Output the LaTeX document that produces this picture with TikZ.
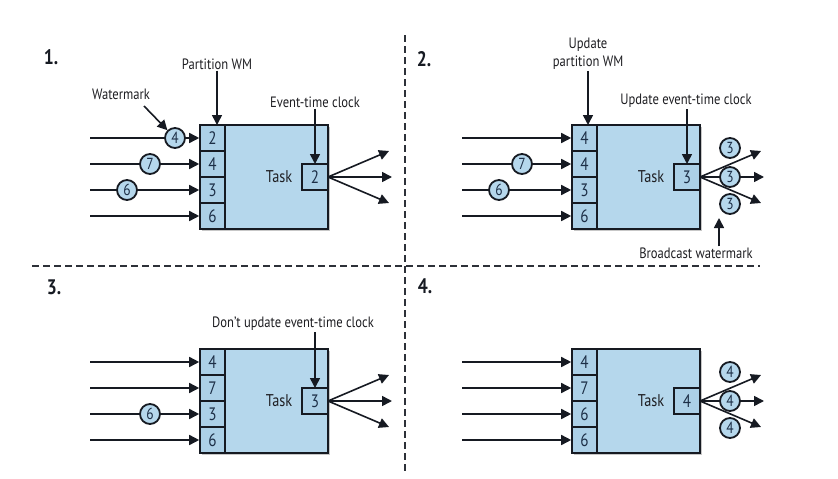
\documentclass[tikz,border=0pt]{standalone}
\usepackage{fontspec}
\setmainfont{PT Sans}[FakeStretch=0.84]
\usetikzlibrary{arrows.meta,shadows}

\definecolor{boxfill}{RGB}{181,215,236}
\definecolor{cellfill}{RGB}{172,208,231}
\definecolor{ink}{RGB}{22,26,34}
\definecolor{digit}{RGB}{28,46,70}
\definecolor{labelink}{RGB}{30,30,34}

\tikzset{
  every node/.style={font=\fontsize{15}{18}\selectfont, text=labelink},
  taskbox/.style={draw=ink, line width=2pt, fill=boxfill, minimum width=128pt,
    minimum height=104pt, inner sep=0pt, outer sep=0pt, anchor=north west,
    drop shadow={shadow xshift=1.6pt, shadow yshift=-1.6pt, opacity=0.22, fill=black}},
  cellbox/.style={draw=ink, line width=1.8pt, fill=cellfill, minimum width=25pt,
    minimum height=26pt, inner sep=0pt, outer sep=0pt, anchor=north west, text=digit,
    font=\fontsize{18}{18}\selectfont},
  clockbox/.style={draw=ink, line width=1.8pt, fill=cellfill, minimum width=26pt,
    minimum height=26pt, inner sep=0pt, outer sep=0pt, anchor=east, text=digit,
    font=\fontsize{18}{18}\selectfont},
  wmark/.style={circle, draw=ink, line width=1.8pt, fill=boxfill, minimum size=20pt,
    inner sep=0pt, text=digit, font=\fontsize{16}{16}\selectfont},
  flow/.style={-{Triangle[length=10pt,width=10pt]}, line width=1.6pt, draw=ink},
  pointer/.style={flow},
  sep/.style={draw=ink!90, line width=2.4pt, dash pattern=on 7pt off 4pt},
  stepnum/.style={font=\bfseries\fontsize{21}{22}\selectfont, text=ink},
  lbl/.style={align=center, inner sep=1pt}
}

% One task with its four input partitions, its event-time clock and three outputs.
% #1 name prefix, #2 shift, #3-#6 partition watermarks, #7 event-time clock
\newcommand\taskpanel[7]{%
  \begin{scope}[shift={#2}, name prefix=#1-]
    \node[taskbox] (box) at (200,125) {};
    \node[cellbox] (c1) at (200,125) {#3};
    \node[cellbox] (c2) at (200,151) {#4};
    \node[cellbox] (c3) at (200,177) {#5};
    \node[cellbox] (c4) at (200,203) {#6};
    \node[clockbox] (clk) at (328,177) {#7};
    \node[font=\fontsize{17}{18}\selectfont] (task) at (279,177) {Task};
    \foreach \i/\y in {1/138,2/164,3/190,4/216}{
      \coordinate (in\i) at (90,\y);
      \draw[flow, shorten >=0.8pt] (in\i) -- (c\i.west);
    }
    \coordinate (o1) at (389,151);
    \coordinate (o2) at (392,177);
    \coordinate (o3) at (389,203);
    \foreach \i in {1,2,3}{ \draw[flow] (clk.east) -- (o\i); }
  \end{scope}}

\begin{document}
\begin{tikzpicture}[x=1pt, y=-1pt]
  \useasboundingbox (0,0) rectangle (838,479);

  % quadrant separators
  \coordinate (vtop) at (405,35);
  \coordinate (vbot) at (405,472);
  \coordinate (hleft) at (32,266);
  \coordinate (hright) at (760,266);
  \draw[sep] (vtop) -- (vbot);
  \draw[sep] (hleft) -- (hright);

  % ---------- 1. ----------
  \node[stepnum] (n1) at (51,57) {1.};
  \taskpanel{p1}{(0,0)}{2}{4}{3}{6}{2}
  \node[wmark] (p1-w1) at (175,138) {4};
  \node[wmark] (p1-w2) at (150,164) {7};
  \node[wmark] (p1-w3) at (127,190) {6};
  \node[lbl] (pwm) at (217,64) {Partition WM};
  \draw[pointer] (pwm.south) -- (pwm.south |- p1-c1.north);
  \node[lbl] (wm) at (121,94) {Watermark};
  \coordinate (wmtail) at (144,106);
  \draw[pointer] (wmtail) -- (p1-w1);
  \node[lbl] (etc) at (315,102) {Event-time clock};
  \draw[pointer] (etc.south -| p1-clk.north) -- (p1-clk.north);

  % ---------- 2. ----------
  \node[stepnum] (n2) at (424,59) {2.};
  \taskpanel{p2}{(372,0)}{4}{4}{3}{6}{3}
  \node[wmark] (p2-w2) at (522,164) {7};
  \node[wmark] (p2-w3) at (499,190) {6};
  \node[wmark] (p2-b1) at (730,148) {3};
  \node[wmark] (p2-b2) at (730,177) {3};
  \node[wmark] (p2-b3) at (730,204) {3};
  \node[lbl] (upwm) at (588,54) {Update\\partition WM};
  \draw[pointer] (upwm.south) -- (upwm.south |- p2-c1.north);
  \node[lbl] (uetc) at (686,101) {Update event-time clock};
  \draw[pointer] (uetc.south -| p2-clk.north) -- (p2-clk.north);
  \node[lbl] (bw) at (696,253) {Broadcast watermark};
  \coordinate (bwtip) at (719,218);
  \draw[pointer] (bw.north -| bwtip) -- (bwtip);

  % ---------- 3. ----------
  \node[stepnum] (n3) at (54,287) {3.};
  \taskpanel{p3}{(0,224)}{4}{7}{3}{6}{3}
  \node[wmark] (p3-w3) at (150,414) {6};
  \node[lbl] (detc) at (293,324) {Don't update event-time clock};
  \draw[pointer] (detc.south -| p3-clk.north) -- (p3-clk.north);

  % ---------- 4. ----------
  \node[stepnum] (n4) at (425,286) {4.};
  \taskpanel{p4}{(372,224)}{4}{7}{6}{6}{4}
  \node[wmark] (p4-b1) at (730,372) {4};
  \node[wmark] (p4-b2) at (730,401) {4};
  \node[wmark] (p4-b3) at (730,428) {4};
\end{tikzpicture}
\end{document}
